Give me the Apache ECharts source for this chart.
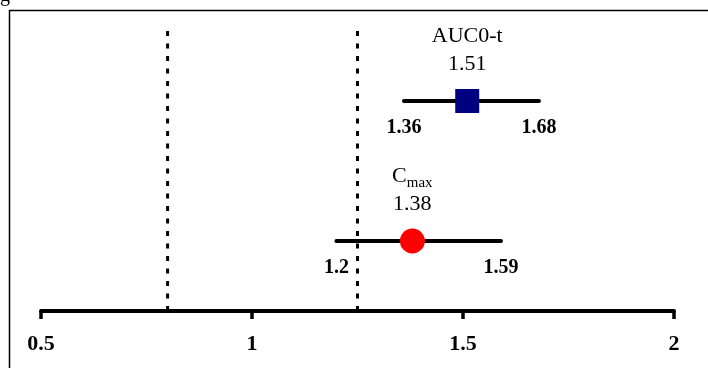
<!DOCTYPE html>
<html><head><meta charset="utf-8">
<script src="https://cdn.jsdelivr.net/npm/echarts@6/dist/echarts.min.js"></script>
<style>html,body{margin:0;padding:0;background:#fff}#c{width:708px;height:368px}</style>
</head><body><div id="c"></div>
<script>
// Data
const params = ['AUC0-t', 'Cmax'];
const pointEst = [1.51, 1.38];
const lowerCI = [1.36, 1.2];
const upperCI = [1.68, 1.59];
const rowPos = [2.1, 0.7];
const limits = [0.8, 1.25];
const xTicks = [0.5, 1, 1.5, 2];
const limitTop = 2.8;

const F = '"Liberation Serif", "Times New Roman", serif';
const chart = echarts.init(document.getElementById('c'));
const series = [];
// acceptance limit dotted lines
limits.forEach(v => series.push({
  type: 'line', data: [[v, 0], [v, limitTop]], symbol: 'none', silent: true,
  lineStyle: { color: '#000', width: 3, type: [5, 7.5] }, z: 1
}));
// CI lines
params.forEach((p, i) => series.push({
  type: 'line', data: [[lowerCI[i], rowPos[i]], [upperCI[i], rowPos[i]]], symbol: 'none',
  lineStyle: { color: '#000', width: 4, cap: 'round' }, z: 2
}));
// CI end labels
series.push({
  type: 'scatter', symbolSize: 0, z: 3, itemStyle: { opacity: 1 },
  data: params.flatMap((p, i) => [[lowerCI[i], rowPos[i], lowerCI[i]], [upperCI[i], rowPos[i], upperCI[i]]]),
  label: { show: true, position: 'bottom', distance: 17, color: '#000', fontFamily: F, fontWeight: 'bold', fontSize: 20,
    formatter: d => String(d.value[2]) }
});
// point estimates
series.push({
  type: 'scatter', z: 4,
  data: [{ value: [pointEst[0], rowPos[0]], symbol: 'rect', symbolSize: 24, itemStyle: { color: '#000080', opacity: 1 },
    label: { distance: 11, formatter: '{t|' + params[0] + '}\n{t|' + pointEst[0] + '}' } },
    { value: [pointEst[1], rowPos[1]], symbol: 'circle', symbolSize: 25, itemStyle: { color: '#ff0000', opacity: 1 },
    label: { distance: 10, formatter: '{t|C}{s|max}\n{t|' + pointEst[1] + '}' } }],
  label: { show: true, position: 'top', distance: 8, color: '#000', fontFamily: F, align: 'center',
    rich: { t: { fontFamily: F, fontSize: 22, lineHeight: 28, color: '#000' },
            s: { fontFamily: F, fontSize: 15, lineHeight: 28, color: '#000', padding: [14, 0, 0, 0] } } }
});

chart.setOption({
  animation: false,
  grid: { left: 41, right: 34, top: 11, bottom: 57 },
  xAxis: { type: 'value', min: xTicks[0], max: xTicks[xTicks.length - 1], interval: 0.5,
    axisLine: { lineStyle: { color: '#000', width: 4 } },
    axisTick: { show: true, length: 8, lineStyle: { color: '#000', width: 3.5 } },
    axisLabel: { color: '#000', fontFamily: F, fontWeight: 'bold', fontSize: 22, margin: 22,
      formatter: v => String(v) },
    splitLine: { show: false } },
  yAxis: { type: 'value', min: 0, max: 3, show: false },
  graphic: [
    { type: 'line', shape: { x1: 9, y1: 10.5, x2: 708, y2: 10.5 }, style: { stroke: '#000', lineWidth: 1.5 } },
    { type: 'line', shape: { x1: 9.5, y1: 10, x2: 9.5, y2: 368 }, style: { stroke: '#000', lineWidth: 1.5 } },
    { type: 'text', left: 0, top: -14, style: { text: 'g', font: '20px ' + F, fill: '#000' } }
  ],
  series
});
</script></body></html>
